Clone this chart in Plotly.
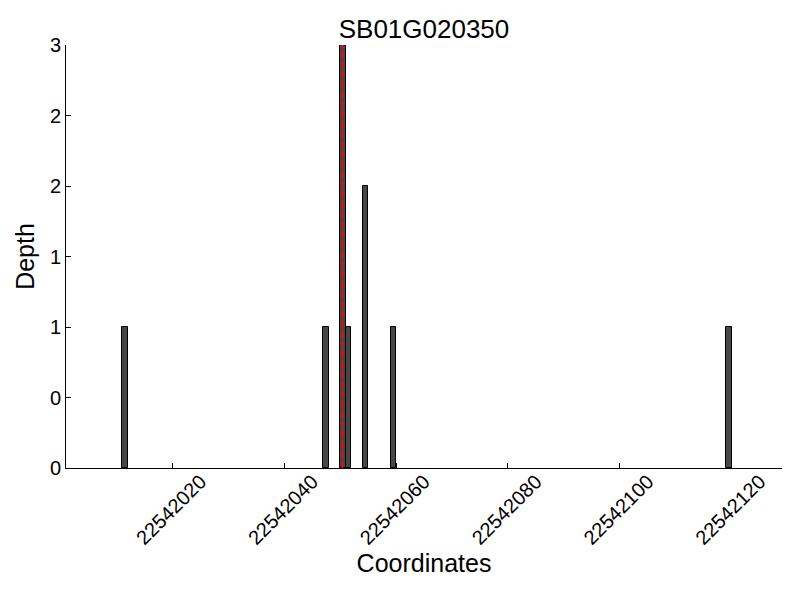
import plotly.graph_objects as go

title = "SB01G020350"
coords = [22542011, 22542047, 22542050, 22542051, 22542054, 22542059, 22542119]
depths = [1, 1, 3, 1, 2, 1, 1]
marker_position = 22542050.4
x_ticks = [22542020, 22542040, 22542060, 22542080, 22542100, 22542120]
y_ticks = [0, 0.5, 1, 1.5, 2, 2.5, 3]
y_tick_labels = [str(int(v)) for v in y_ticks]

font = "Liberation Sans, Arial, sans-serif"

fig = go.Figure()
fig.add_trace(go.Bar(
    x=coords, y=depths, width=1, offset=0,
    marker=dict(color="#474747", line=dict(color="black", width=1)),
    showlegend=False,
))
fig.add_trace(go.Scatter(
    x=[marker_position, marker_position], y=[0, max(depths)],
    mode="lines", line=dict(color="red", width=2, dash="7px,3px"),
    showlegend=False,
))

fig.update_layout(
    width=800, height=600,
    plot_bgcolor="white", paper_bgcolor="white",
    margin=dict(l=58, r=26, t=37, b=140, autoexpand=False),
    font=dict(family=font, size=20, color="black"),
    title=dict(text=title, x=0.5, xref="paper", xanchor="center",
               y=1 - 21 / 600, yanchor="middle",
               font=dict(size=26, family=font, color="black")),
    bargap=0,
)
fig.update_xaxes(
    range=[22542000.96, 22542129.0],
    tickvals=x_ticks, ticktext=[str(v) for v in x_ticks],
    tickangle=-45, ticks="inside", ticklen=5, tickcolor="black",
    ticklabelshift=28, ticklabelstandoff=-7,
    showline=True, linecolor="black", linewidth=1,
    showgrid=False, zeroline=False, automargin=False,
    title=dict(text="Coordinates", font=dict(size=25), standoff=6),
    tickfont=dict(size=20),
)
fig.update_yaxes(
    range=[0, 3],
    tickvals=y_ticks, ticktext=y_tick_labels,
    ticks="inside", ticklen=5, tickcolor="black",
    showline=True, linecolor="black", linewidth=1,
    showgrid=False, zeroline=False, automargin=False,
    title=dict(text="Depth", font=dict(size=25), standoff=8),
    tickfont=dict(size=20),
)

fig.write_html("out.html")
